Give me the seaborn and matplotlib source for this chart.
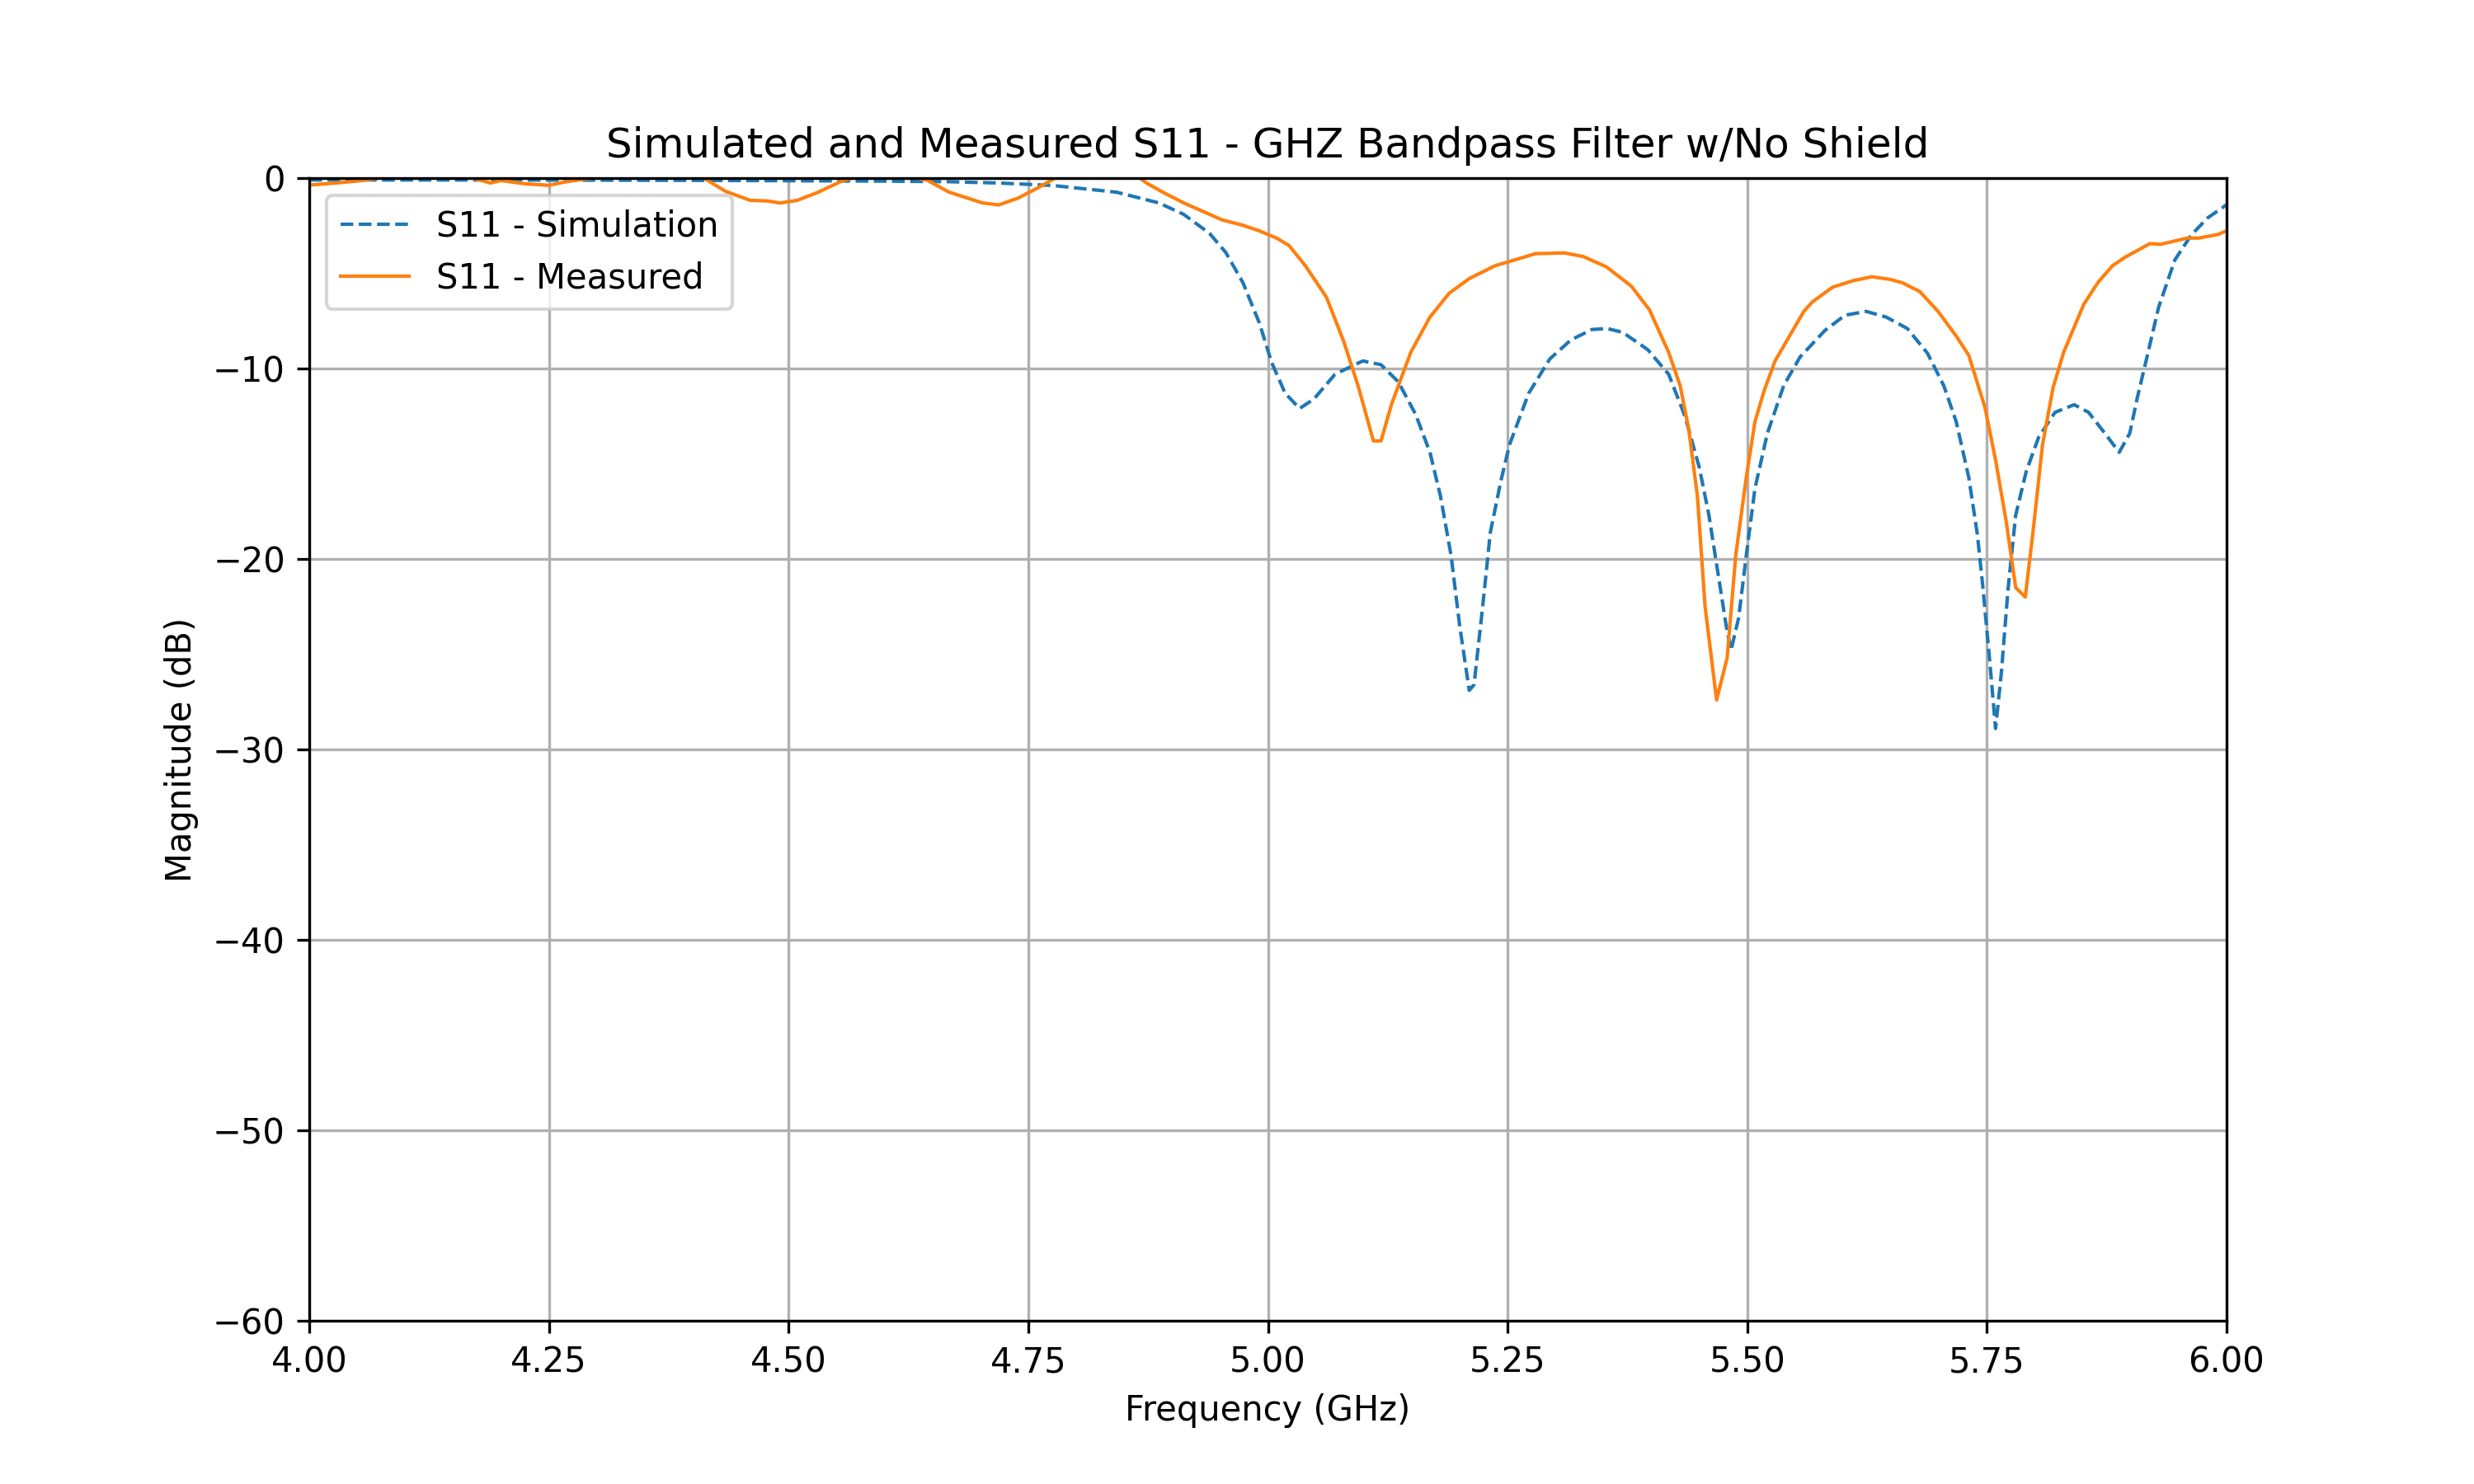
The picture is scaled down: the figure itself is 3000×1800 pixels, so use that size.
import matplotlib
matplotlib.use("Agg")
import matplotlib.pyplot as plt
import seaborn as sns
import pandas as pd

sim_freq = [4.00, 4.10, 4.20, 4.30, 4.40, 4.50, 4.60, 4.667, 4.72, 4.776, 4.842, 4.886, 4.912,
            4.939, 4.956, 4.974, 4.991, 5.004, 5.018, 5.033, 5.048, 5.070, 5.099, 5.118,
            5.136, 5.154, 5.169, 5.180, 5.191, 5.200, 5.210, 5.215, 5.224, 5.232, 5.243,
            5.252, 5.272, 5.294, 5.316, 5.338, 5.354, 5.370, 5.396, 5.418, 5.435, 5.450,
            5.460, 5.469, 5.478, 5.483, 5.491, 5.499, 5.508, 5.521, 5.538, 5.555, 5.581,
            5.602, 5.624, 5.645, 5.667, 5.688, 5.705, 5.718, 5.731, 5.740, 5.746, 5.753,
            5.759, 5.765, 5.772, 5.780, 5.791, 5.804, 5.821, 5.841, 5.856, 5.873, 5.888,
            5.899, 5.907, 5.916, 5.929, 5.946, 5.963, 5.980, 6.000]
sim_db = [-0.10, -0.10, -0.10, -0.11, -0.12, -0.14, -0.16, -0.19, -0.26, -0.39, -0.74, -1.3, -1.9,
          -2.9, -3.9, -5.5, -7.6, -9.7, -11.3, -12.1, -11.6, -10.3, -9.6, -9.8,
          -10.7, -12.4, -14.4, -16.7, -19.8, -23.5, -26.9, -26.6, -22.5, -18.6, -15.9,
          -14.0, -11.3, -9.5, -8.5, -7.95, -7.9, -8.1, -9.0, -10.3, -12.5, -15.2,
          -17.7, -20.6, -23.5, -24.8, -23.1, -19.8, -16.3, -13.4, -10.9, -9.4, -8.0,
          -7.2, -7.0, -7.3, -7.9, -9.2, -10.9, -12.8, -15.7, -18.7, -21.6, -25.4,
          -28.9, -26.0, -21.6, -17.7, -15.4, -13.6, -12.3, -11.9, -12.3, -13.4, -14.4,
          -13.4, -11.5, -9.6, -6.8, -4.3, -3.0, -2.1, -1.4]

meas_freq = [4.002, 4.030, 4.053, 4.080, 4.120, 4.160, 4.189, 4.200, 4.225, 4.250, 4.268, 4.285,
             4.320, 4.370, 4.410, 4.434, 4.460, 4.478, 4.491, 4.509, 4.530, 4.557, 4.580,
             4.610, 4.645, 4.667, 4.702, 4.719, 4.739, 4.759, 4.778, 4.800, 4.830, 4.864,
             4.873, 4.890, 4.912, 4.930, 4.952, 4.974, 4.991, 5.009, 5.022, 5.039, 5.061,
             5.079, 5.094, 5.110, 5.118, 5.129, 5.149, 5.169, 5.189, 5.210, 5.237, 5.254,
             5.279, 5.309, 5.329, 5.353, 5.379, 5.398, 5.418, 5.430, 5.439, 5.448, 5.456,
             5.468, 5.479, 5.488, 5.499, 5.508, 5.518, 5.529, 5.544, 5.559, 5.568, 5.589,
             5.611, 5.630, 5.649, 5.662, 5.680, 5.699, 5.718, 5.731, 5.748, 5.759, 5.770,
             5.780, 5.790, 5.798, 5.808, 5.819, 5.830, 5.851, 5.866, 5.881, 5.894, 5.920,
             5.931, 5.959, 5.971, 5.991, 6.000]
meas_db = [-0.36, -0.25, -0.14, 0.05, 0.2, 0.15, -0.26, -0.13, -0.30, -0.38, -0.19, -0.07,
           0.15, 0.2, 0.05, -0.69, -1.17, -1.20, -1.31, -1.17, -0.76, -0.12, 0.15,
           0.25, -0.12, -0.73, -1.30, -1.41, -1.06, -0.54, 0.0, 0.3, 0.35, 0.1,
           -0.25, -0.73, -1.30, -1.70, -2.19, -2.48, -2.77, -3.15, -3.54, -4.6, -6.25,
           -8.57, -10.9, -13.8, -13.8, -11.86, -9.15, -7.3, -6.05, -5.28, -4.6, -4.35,
           -3.97, -3.93, -4.12, -4.66, -5.67, -6.92, -9.15, -10.9, -13.2, -16.7, -22.5,
           -27.4, -25.2, -19.8, -15.7, -12.8, -11.1, -9.6, -8.3, -7.0, -6.5, -5.73,
           -5.38, -5.18, -5.32, -5.5, -5.96, -7.0, -8.3, -9.3, -12.05, -14.8, -18.0,
           -21.5, -22.0, -18.6, -14.0, -11.0, -9.15, -6.63, -5.47, -4.6, -4.16, -3.44,
           -3.48, -3.15, -3.15, -2.96, -2.77]

sim_df = pd.DataFrame({"freq": sim_freq, "db": sim_db})
meas_df = pd.DataFrame({"freq": meas_freq, "db": meas_db})

fig, ax = plt.subplots(figsize=(10, 6), dpi=300)
sns.lineplot(data=sim_df, x="freq", y="db", ax=ax, color="#1f77b4", linestyle="--",
             linewidth=1.0, label="S11 - Simulation", sort=False)
sns.lineplot(data=meas_df, x="freq", y="db", ax=ax, color="#ff7f0e", linestyle="-",
             linewidth=1.0, label="S11 - Measured", sort=False)

ax.set_xlim(4.0, 6.0)
ax.set_ylim(-60, 0)
ax.set_xticks([4.00, 4.25, 4.50, 4.75, 5.00, 5.25, 5.50, 5.75, 6.00])
ax.set_xticklabels(["4.00", "4.25", "4.50", "4.75", "5.00", "5.25", "5.50", "5.75", "6.00"])
ax.grid(True)
ax.set_xlabel("Frequency (GHz)")
ax.set_ylabel("Magnitude (dB)")
ax.set_title("Simulated and Measured S11 - GHZ Bandpass Filter w/No Shield")
ax.legend(loc="upper left")
fig.savefig("out.png", dpi=300)
